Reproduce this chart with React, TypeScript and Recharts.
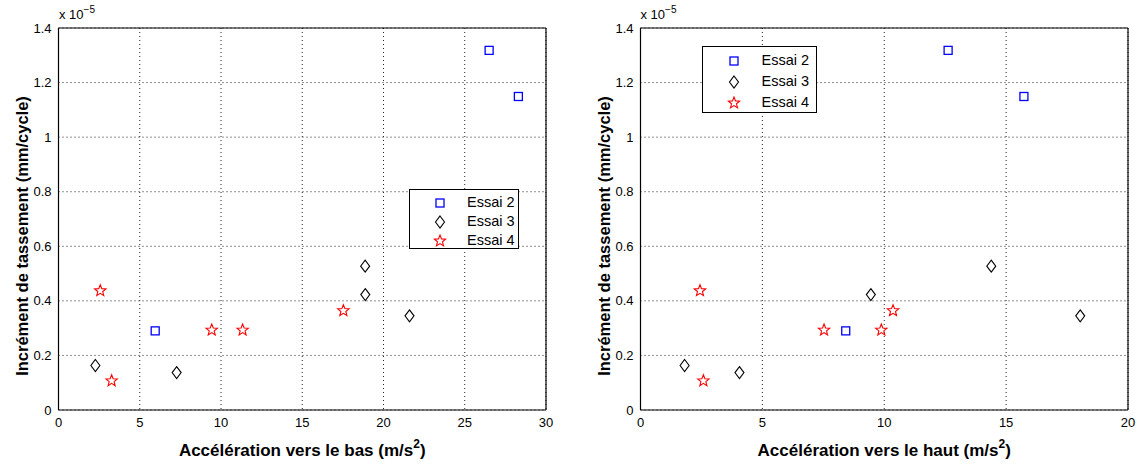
import React from 'react';
import { ScatterChart, Scatter, XAxis, YAxis, CartesianGrid, Legend } from 'recharts';

const basTicks = [0, 5, 10, 15, 20, 25, 30];
const hautTicks = [0, 5, 10, 15, 20];
const yTicks = [0, 0.2, 0.4, 0.6, 0.8, 1, 1.2, 1.4];
const seriesNames = ['Essai 2', 'Essai 3', 'Essai 4'];
const yLabel = 'Incrément de tassement (mm/cycle)';

// Left panel: acceleration downwards
const basEssai2X = [26.5, 28.3, 5.95];
const basEssai2Y = [1.318, 1.149, 0.29];
const basEssai3X = [2.27, 7.27, 18.87, 18.88, 21.6];
const basEssai3Y = [0.163, 0.137, 0.527, 0.423, 0.345];
const basEssai4X = [2.57, 3.27, 9.43, 11.33, 17.53];
const basEssai4Y = [0.437, 0.107, 0.293, 0.293, 0.364];

// Right panel: acceleration upwards
const hautEssai2X = [12.62, 15.73, 8.42];
const hautEssai2Y = [1.318, 1.149, 0.29];
const hautEssai3X = [1.81, 4.06, 9.45, 14.39, 18.04];
const hautEssai3Y = [0.163, 0.137, 0.423, 0.527, 0.345];
const hautEssai4X = [2.44, 2.58, 7.53, 9.88, 10.36];
const hautEssai4Y = [0.437, 0.107, 0.293, 0.293, 0.364];

const zip = (xs: number[], ys: number[]) => xs.map((x, i) => ({ x, y: ys[i] }));

const FONT = '"Liberation Sans", Arial, Helvetica, sans-serif';
const TOP = 28;
const PLOT_H = 382;
const YAXIS_W = 58.5;

const SquareShape = (p: any) => (
  <rect x={p.cx - 4} y={p.cy - 4} width={8} height={8} fill="none" stroke="#0000ff" strokeWidth={1.3} />
);
const DiamondShape = (p: any) => (
  <path d={`M${p.cx},${p.cy - 6} L${p.cx + 4.5},${p.cy} L${p.cx},${p.cy + 6} L${p.cx - 4.5},${p.cy} Z`} fill="none" stroke="#000" strokeWidth={1.1} />
);
const starPath = (cx: number, cy: number, R: number, r: number) => {
  let d = '';
  for (let i = 0; i < 10; i++) {
    const rad = i % 2 === 0 ? R : r;
    const a = -Math.PI / 2 + (i * Math.PI) / 5;
    d += (i === 0 ? 'M' : 'L') + (cx + rad * Math.cos(a)).toFixed(2) + ',' + (cy + rad * Math.sin(a)).toFixed(2);
  }
  return d + 'Z';
};
const StarShape = (p: any) => (
  <path d={starPath(p.cx, p.cy, 6, 2.6)} fill="none" stroke="#ff0000" strokeWidth={1.1} />
);
const shapes = [SquareShape, DiamondShape, StarShape];

const LegendMarker = ({ i }: { i: number }) => {
  const S = shapes[i];
  return (
    <svg width={14} height={14} style={{ display: 'block' }}>
      <S cx={7} cy={7} />
    </svg>
  );
};

const makeLegend = (rowGap: number, width: number, height: number, top0: number, markerX: number, textX: number) => () => (
  <div style={{ position: 'relative', width, height, border: '1px solid #000', background: '#fff', boxSizing: 'border-box', fontFamily: FONT, fontSize: 14.5, color: '#000' }}>
    {seriesNames.map((n, i) => (
      <div key={n} style={{ position: 'absolute', left: 0, top: top0 + i * rowGap - 8, height: 16, width: '100%' }}>
        <div style={{ position: 'absolute', left: markerX - 7, top: 1 }}><LegendMarker i={i} /></div>
        <div style={{ position: 'absolute', left: textX, top: -1, lineHeight: '16px', whiteSpace: 'nowrap' }}>{n}</div>
      </div>
    ))}
  </div>
);

const XLab = ({ viewBox, text }: any) => {
  const cx = viewBox.x + viewBox.width / 2;
  const y = TOP + PLOT_H + 46;
  return (
    <text x={cx} y={y} textAnchor="middle" fontFamily={FONT} fontSize={17} fontWeight="bold" fill="#000">
      <tspan>{text}</tspan>
      <tspan dy={-8} fontSize={12}>2</tspan>
      <tspan dy={8}>)</tspan>
    </text>
  );
};

const YLab = () => {
  const cx = 22;
  const cy = TOP + PLOT_H / 2 + 17;
  return (
    <text x={cx} y={cy} transform={`rotate(-90, ${cx}, ${cy})`} textAnchor="middle" dominantBaseline="central" fontFamily={FONT} fontSize={16.5} fontWeight="bold" fill="#000">
      {yLabel}
    </text>
  );
};

const tickStyle = { fontSize: 13, fill: '#000', fontFamily: FONT };
const fmt = (v: number) => String(v);

function Panel({ left, xTicks, xMax, d2, d3, d4, xText, legend }: any) {
  const W = 570;
  return (
    <div style={{ position: 'absolute', left, top: 0, width: W, height: 464 }}>
      <ScatterChart width={W} height={464} margin={{ top: TOP, right: 24, bottom: 0, left: 0 }}>
        <CartesianGrid stroke="#222" strokeDasharray="1 3" strokeWidth={1} />
        <XAxis dataKey="x" type="number" domain={[0, xMax]} ticks={xTicks} height={464 - TOP - PLOT_H} tickLine={false}
          axisLine={{ stroke: '#000', strokeWidth: 1.2 }} tick={tickStyle} tickFormatter={fmt}
          allowDataOverflow label={<XLab text={xText} />} />
        <XAxis xAxisId="inb" type="number" domain={[0, xMax]} ticks={xTicks} mirror tick={false} tickSize={5}
          axisLine={false} tickLine={{ stroke: '#000' }} allowDataOverflow />
        <XAxis xAxisId="top" orientation="top" type="number" domain={[0, xMax]} ticks={xTicks} mirror tick={false} tickSize={5}
          axisLine={{ stroke: '#000', strokeWidth: 1.2 }} tickLine={{ stroke: '#000' }} allowDataOverflow />
        <YAxis dataKey="y" type="number" domain={[0, 1.4]} ticks={yTicks} width={YAXIS_W} tickLine={false}
          axisLine={{ stroke: '#000', strokeWidth: 1.2 }} tick={tickStyle} tickFormatter={fmt} tickSize={6} tickMargin={1}
          allowDataOverflow label={<YLab />} />
        <YAxis yAxisId="inl" type="number" domain={[0, 1.4]} ticks={yTicks} mirror tick={false} tickSize={5}
          axisLine={false} tickLine={{ stroke: '#000' }} allowDataOverflow />
        <YAxis yAxisId="right" orientation="right" type="number" domain={[0, 1.4]} ticks={yTicks} mirror tick={false} tickSize={5}
          axisLine={{ stroke: '#000', strokeWidth: 1.2 }} tickLine={{ stroke: '#000' }} allowDataOverflow />
        <Legend layout="horizontal" verticalAlign="middle" align="center" content={legend.content}
          wrapperStyle={{ position: 'absolute', left: legend.x, top: legend.y, width: legend.w, height: legend.h, margin: 0 }} />
        <Scatter name={seriesNames[0]} data={d2} shape={SquareShape} isAnimationActive={false} />
        <Scatter name={seriesNames[1]} data={d3} shape={DiamondShape} isAnimationActive={false} />
        <Scatter name={seriesNames[2]} data={d4} shape={StarShape} isAnimationActive={false} />
      </ScatterChart>
      <div style={{ position: 'absolute', left: 59, top: 7, fontFamily: FONT, fontSize: 13, color: '#000', whiteSpace: 'nowrap', lineHeight: '16px' }}>
        x 10<sup style={{ fontSize: 10, position: 'relative', top: -1, verticalAlign: 'top', lineHeight: '8px' }}>−5</sup>
      </div>
    </div>
  );
}

export default function App() {
  return (
    <div style={{ position: 'absolute', left: 0, top: 0, width: 1142, height: 464, background: '#fff' }}>
      <Panel left={0} xTicks={basTicks} xMax={30}
        d2={zip(basEssai2X, basEssai2Y)} d3={zip(basEssai3X, basEssai3Y)} d4={zip(basEssai4X, basEssai4Y)}
        xText="Accélération vers le bas (m/s"
        legend={{ x: 409, y: 189, w: 110, h: 60, content: makeLegend(18.8, 110, 60, 13, 30, 57) }} />
      <Panel left={581.5} xTicks={hautTicks} xMax={20}
        d2={zip(hautEssai2X, hautEssai2Y)} d3={zip(hautEssai3X, hautEssai3Y)} d4={zip(hautEssai4X, hautEssai4Y)}
        xText="Accélération vers le haut (m/s"
        legend={{ x: 120.5, y: 46, w: 115, h: 67, content: makeLegend(20.8, 115, 67, 14, 31, 58.5) }} />
    </div>
  );
}
